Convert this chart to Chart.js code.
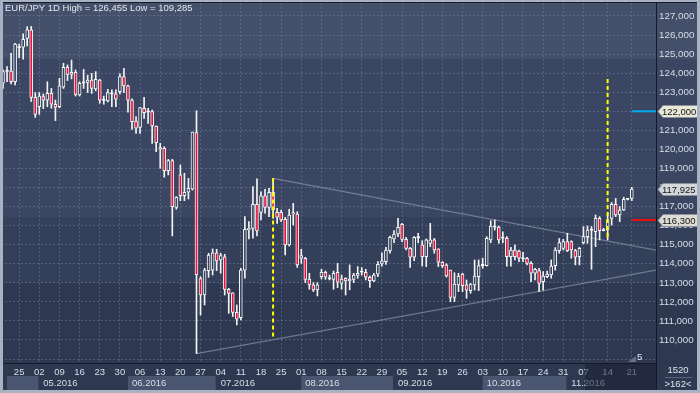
<!DOCTYPE html>
<html>
<head>
<meta charset="utf-8">
<script src="https://cdn.jsdelivr.net/npm/chart.js@4.4.0/dist/chart.umd.min.js"></script>
<style>
html, body { margin: 0; padding: 0; background: #2e3951; }
canvas { display: block; }
</style>
</head>
<body>
<canvas id="fx" width="700" height="393"></canvas>
<script>
// EUR/JPY daily candles, one per trading day (index 0 = 19 Apr 2016)
const opens = [
  123.47,124.11,124.11,123.55,125.38,125.36,125.83,126.27,122.73,122.24,
  122.77,122.58,122.94,122.37,122.24,123.26,124.31,123.94,124.04,122.86,
  123.50,123.52,123.64,123.17,123.64,122.59,122.54,122.94,122.91,123.03,
  123.82,123.33,122.59,121.49,121.16,122.16,121.98,121.98,121.23,120.09,
  120.06,118.89,119.41,116.96,118.66,117.57,117.75,117.92,120.88,113.22,
  112.36,113.64,113.67,114.58,114.20,114.37,112.66,112.48,111.45,111.17,
  113.67,115.78,115.86,117.12,116.70,117.56,116.96,117.75,116.70,116.70,
  116.33,114.99,116.61,116.61,114.29,114.29,113.20,112.89,112.63,113.32,
  113.55,113.26,113.18,113.55,112.97,113.24,113.10,113.18,113.39,113.57,
  113.55,113.29,113.10,113.45,113.99,114.11,114.69,115.30,115.56,116.07,
  115.28,114.81,114.34,115.37,114.99,114.37,115.07,115.25,114.78,114.08,
  113.94,113.67,112.24,112.89,113.46,112.89,112.59,112.89,113.32,113.92,
  113.90,115.25,115.93,115.93,115.35,115.33,114.37,114.72,114.67,114.27,
  114.29,114.02,113.50,113.64,113.06,113.32,113.41,113.90,114.69,114.81,
  115.16,115.16,114.69,114.37,115.11,115.42,115.77,115.68,116.38,115.75,
  115.77,116.38,117.12,116.56,116.82,117.38,117.43
];
const highs = [
  124.17,124.34,125.04,125.57,125.53,126.06,126.44,126.455,122.98,122.98,
  122.91,123.55,123.20,122.59,123.73,124.52,124.43,124.69,124.17,123.55,
  124.20,123.90,123.99,124.08,123.68,122.80,123.15,123.12,123.12,123.96,
  124.25,123.38,122.65,121.72,122.21,122.73,122.16,122.07,121.23,120.32,
  120.14,119.48,119.48,117.52,119.18,118.75,118.48,120.91,122.03,113.32,
  113.76,114.55,114.78,114.76,114.55,114.50,112.71,112.48,111.84,113.76,
  116.47,116.21,118.05,118.45,117.78,117.91,117.96,118.48,116.91,116.82,
  116.44,116.86,117.17,116.73,114.76,114.34,113.50,113.01,113.01,113.71,
  113.62,113.41,113.62,114.02,113.41,113.27,113.94,113.50,113.85,113.80,
  113.71,113.36,113.50,114.11,114.58,114.86,115.45,115.74,116.38,116.12,
  115.39,114.86,115.42,115.60,115.21,115.30,116.12,115.33,114.78,114.11,
  114.00,113.67,113.53,113.50,113.50,113.15,112.97,114.20,114.20,114.29,
  115.42,116.26,116.30,115.98,115.68,115.42,114.86,114.99,114.72,114.60,
  114.34,114.11,113.76,113.76,113.59,113.62,114.20,114.85,115.33,115.28,
  115.60,115.21,114.76,114.86,115.95,115.98,115.95,116.56,116.47,115.86,
  116.65,117.21,117.43,117.00,117.49,117.43,118.01
];
const lows = [
  123.20,123.55,123.43,123.38,124.81,124.73,125.43,122.51,121.68,121.84,
  122.14,122.24,122.16,121.51,122.19,123.20,123.61,123.70,122.80,122.80,
  123.20,122.98,122.94,123.07,122.42,122.37,122.49,122.24,122.24,122.91,
  122.98,121.95,121.05,120.84,120.84,121.63,121.37,120.32,119.88,119.01,
  118.54,118.66,115.46,116.86,117.31,117.31,117.40,117.87,109.285,111.31,
  111.84,113.29,113.41,113.64,113.50,112.36,111.40,111.23,110.79,111.05,
  113.24,115.30,115.34,115.46,116.30,116.65,116.47,116.38,116.12,116.21,
  114.46,114.93,116.03,113.81,114.02,113.01,112.66,112.54,112.31,113.20,
  113.18,113.15,112.66,112.75,112.66,112.36,112.63,113.01,113.24,113.41,
  113.15,112.76,113.06,113.32,113.88,113.97,114.55,115.11,115.42,115.16,
  114.72,113.81,114.16,115.10,113.88,113.85,114.90,114.55,113.85,113.80,
  113.30,112.01,112.01,112.54,112.54,112.19,112.45,112.62,112.59,113.76,
  113.88,115.11,115.77,115.07,115.11,113.88,113.88,114.20,114.11,114.11,
  113.94,113.06,113.15,112.54,112.62,113.27,113.24,113.67,114.55,114.72,
  114.64,114.29,113.94,113.94,115.04,115.07,113.71,114.90,115.25,115.72,
  115.25,116.03,116.47,116.21,116.79,117.35,117.31
];
const closes = [
  124.08,124.13,123.55,125.53,125.36,125.78,126.27,122.73,121.84,122.80,
  122.58,122.94,122.38,122.21,123.33,124.31,123.94,124.04,122.89,123.47,
  123.52,123.64,123.20,123.68,122.59,122.60,122.98,122.95,122.63,123.82,
  123.33,122.59,121.46,121.11,122.19,121.93,122.00,121.23,120.35,120.03,
  118.89,119.41,117.00,117.49,117.57,117.75,117.96,120.91,113.41,112.36,
  113.67,114.46,114.58,114.15,114.43,112.66,112.45,111.45,111.09,113.67,
  115.81,115.86,117.12,115.72,117.56,116.96,117.75,116.82,116.44,116.30,
  114.99,116.56,116.68,113.94,114.43,113.18,112.89,112.63,112.89,113.55,
  113.29,113.22,113.50,113.03,113.20,113.10,113.20,113.41,113.50,113.60,
  113.29,113.11,113.41,113.97,114.16,114.72,115.39,115.56,115.91,115.28,
  114.81,114.34,115.39,115.41,114.37,115.25,115.25,114.72,114.08,113.90,
  113.36,112.24,112.94,113.36,112.85,112.62,112.94,113.36,113.90,113.95,
  115.33,115.98,115.96,115.25,115.39,114.37,114.72,114.37,114.29,114.31,
  114.02,113.50,113.71,112.97,113.36,113.46,113.88,114.72,115.11,115.16,
  114.69,114.72,114.34,114.81,115.42,115.77,115.80,116.38,115.74,115.77,
  116.30,117.12,116.56,116.82,117.38,117.42,117.925
];

// weekly ticks (Mondays) and their day numbers
const tickIdx = [4,9,14,19,24,29,34,39,44,49,54,59,64,69,74,79,84,89,94,99,
  104,109,114,119,124,129,134,139,144,150,156];
const dayLabels = ['25','02','09','16','23','30','06','13','20','27','04','11','18','25',
  '01','08','15','22','29','05','12','19','26','03','10','17','24','31','07','14','21'];
const monthStart = [0, 9, 31, 53, 74, 97, 119, 140];
const monthLabels = ['', '05.2016', '06.2016', '07.2016', '08.2016', '09.2016', '10.2016', '11.2016'];
const yTicks = [109,110,111,112,113,114,115,116,117,118,119,120,121,122,123,124,125,126,127];

// drawn objects: trend lines, vertical markers, price levels
const upperTrend = [{x: 67, y: 118.48}, {x: 162, y: 114.72}];
const lowerTrend = [{x: 48, y: 109.285}, {x: 162, y: 113.67}];
const markA = [{x: 67, y: 118.48}, {x: 67, y: 110.11}];
const markB = [{x: 150, y: 123.69}, {x: 150, y: 115.25}];
const levelValues = [122.0, 117.925, 116.3];
const levelFills = ['#e9e9d9', '#d3d7db', '#dcdcd2'];

const FONT = "'Liberation Sans', Arial, sans-serif";
const fmt = v => v.toFixed(3).replace('.', ',');
Chart.defaults.font.family = FONT;

const idx = opens.map((_, i) => i);
const wickData = idx.map(i => ({x: i, y: [lows[i], highs[i]]}));
const bodyData = idx.map(i => {
  let lo = Math.min(opens[i], closes[i]);
  let hi = Math.max(opens[i], closes[i]);
  if (hi - lo < 0.06) { const m = (hi + lo) / 2; lo = m - 0.03; hi = m + 0.03; }
  return {x: i, y: [lo, hi]};
});
const bodyFill = idx.map(i => {
  const d = closes[i] - opens[i];
  if (Math.abs(d) < 0.06) return '#f2f2f2';
  return d > 0 ? '#38445e' : '#e8103c';
});

const backdrop = {
  id: 'backdrop',
  beforeDraw(chart) {
    const c = chart.ctx;
    const bands = [[0, 59, '#445069'], [59, 217, '#3b4762'], [217, 283, '#343f59'], [283, 393, '#2e3951']];
    bands.forEach(([a, b, col]) => { c.fillStyle = col; c.fillRect(0, a, chart.width, b - a); });
  }
};

const decor = {
  id: 'decor',
  afterDraw(chart) {
    const c = chart.ctx, xs = chart.scales.x, ys = chart.scales.y, area = chart.chartArea;
    c.save();
    c.font = '9.5px ' + FONT;
    c.textBaseline = 'middle';

    // month row
    for (let m = 0; m < monthStart.length; m++) {
      const a = Math.max(7, xs.getPixelForValue(monthStart[m]));
      const b = m + 1 < monthStart.length ? xs.getPixelForValue(monthStart[m + 1]) : area.right;
      if (m % 2 === 0) {
        c.fillStyle = '#4a5570';
        c.fillRect(a, 376, b - a - 1, 14);
      }
      c.fillStyle = '#d8dde8';
      c.textAlign = 'left';
      c.fillText(monthLabels[m], a + 4, 383.5);
    }
    // future zone shading in the date row
    c.fillStyle = 'rgba(24,31,48,0.55)';
    c.fillRect(585, 364, area.right - 585, 26);

    // bottom-right panel
    c.fillStyle = '#2e3951';
    c.fillRect(area.right + 1, 364, 700 - area.right - 1, 26);
    c.strokeStyle = '#5a6580';
    c.lineWidth = 1;
    c.beginPath(); c.moveTo(665, 377.5); c.lineTo(692, 377.5); c.stroke();
    c.fillStyle = '#dfe3ec';
    c.textAlign = 'center';
    c.fillText('1520', 678, 370.5);
    c.fillText('>162<', 678, 384);

    // small marker near the last bars
    c.fillStyle = '#66718b';
    c.beginPath(); c.moveTo(628, 362); c.lineTo(636, 362); c.lineTo(636, 356); c.closePath(); c.fill();
    c.fillStyle = '#e6e9f0';
    c.textAlign = 'left';
    c.fillText('5', 637, 357.5);

    // price level tags on the axis
    levelValues.forEach((v, i) => {
      const y = Math.round(ys.getPixelForValue(v)) + 0.5;
      c.fillStyle = levelFills[i];
      c.beginPath();
      c.moveTo(658, y); c.lineTo(663, y - 6); c.lineTo(698, y - 6);
      c.lineTo(698, y + 6); c.lineTo(663, y + 6); c.closePath();
      c.fill();
      c.strokeStyle = '#8d929a'; c.stroke();
      c.fillStyle = '#141414';
      c.textAlign = 'left';
      c.fillText(fmt(v), 662, y + 0.5);
    });

    // title
    c.fillStyle = '#e3e7ef';
    c.textAlign = 'left';
    c.fillText('EUR/JPY 1D High = ' + fmt(Math.max(...highs)) + ' Low = ' + fmt(Math.min(...lows)), 5, 8);

    // window frame
    c.fillStyle = '#a9b2c3';
    c.fillRect(0, 0, 700, 2);
    c.fillRect(0, 0, 3, 393);
    c.fillRect(0, 390, 700, 3);
    c.fillRect(697, 0, 3, 393);
    c.fillStyle = '#151a26';
    c.fillRect(3, 2, 694, 1);
    c.fillRect(area.right, 2, 1, 388);
    c.restore();
  }
};

new Chart(document.getElementById('fx'), {
  type: 'bar',
  data: {
    datasets: [
      { type: 'line', data: upperTrend, borderColor: 'rgba(150,160,182,0.6)', borderWidth: 1.2,
        pointRadius: 0, fill: false, order: 5 },
      { type: 'line', data: lowerTrend, borderColor: 'rgba(150,160,182,0.6)', borderWidth: 1.2,
        pointRadius: 0, fill: false, order: 5 },
      { data: wickData, backgroundColor: '#f4f4f4', borderWidth: 0, barThickness: 1,
        grouped: false, order: 4 },
      { data: bodyData, backgroundColor: bodyFill, borderColor: '#f6f6f6', borderWidth: 1,
        borderSkipped: false, barThickness: 3, grouped: false, order: 3 },
      { type: 'line', data: markA, borderColor: '#ffff00', borderWidth: 2, borderDash: [4, 3],
        pointRadius: 0, fill: false, order: 1 },
      { type: 'line', data: markB, borderColor: '#ffff00', borderWidth: 2, borderDash: [4, 3],
        pointRadius: 0, fill: false, order: 1 },
      { type: 'line', data: [{x: 156, y: levelValues[0]}, {x: 162, y: levelValues[0]}],
        borderColor: '#00a8ec', borderWidth: 2, pointRadius: 0, order: 1 },
      { type: 'line', data: [{x: 156, y: levelValues[2]}, {x: 162, y: levelValues[2]}],
        borderColor: '#ee1010', borderWidth: 2, pointRadius: 0, order: 1 }
    ]
  },
  options: {
    responsive: false,
    animation: false,
    layout: { padding: { left: 1, top: 3, right: 0, bottom: 0 } },
    plugins: { legend: { display: false }, tooltip: { enabled: false } },
    scales: {
      x: {
        type: 'linear',
        min: -0.5,
        max: 162,
        offset: false,
        grid: { offset: false, color: 'rgba(120,135,165,0.45)', drawTicks: false },
        border: { display: true, color: '#151a26', dash: [2, 2] },
        afterBuildTicks: s => { s.ticks = tickIdx.map(v => ({value: v})); },
        afterFit: s => { s.height = 30; s.paddingLeft = 0; s.paddingRight = 0; },
        ticks: {
          autoSkip: false, maxRotation: 0, padding: 4,
          color: '#d8dde8', font: { size: 9.5 },
          callback: (v, i) => dayLabels[i]
        }
      },
      y: {
        position: 'right',
        min: 108.793,
        max: 127.682,
        beginAtZero: false,
        grid: { color: 'rgba(120,135,165,0.45)', drawTicks: false },
        border: { display: true, color: '#151a26', dash: [2, 2] },
        afterBuildTicks: s => { s.ticks = yTicks.map(v => ({value: v})); },
        afterFit: s => { s.width = 44; s.paddingTop = 0; s.paddingBottom = 0; },
        ticks: {
          padding: 3, color: '#d8dde8', font: { size: 9.8 },
          callback: v => (v === 109 ? '' : fmt(v))
        }
      }
    }
  },
  plugins: [backdrop, decor]
});
</script>
</body>
</html>
